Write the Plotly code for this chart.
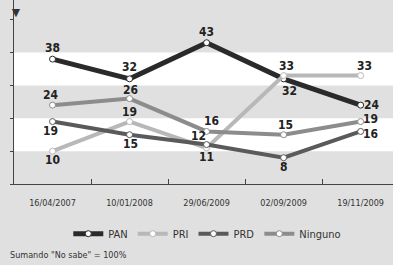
import plotly.graph_objects as go

dates = ["16/04/2007", "10/01/2008", "29/06/2009", "02/09/2009", "19/11/2009"]
pan = [38, 32, 43, 32, 24]
pri = [10, 19, 11, 33, 33]
prd = [19, 15, 12, 8, 16]
ninguno = [24, 26, 16, 15, 19]

# label offsets in pixels (dx right, dy down) relative to each point
series = [
    ("PAN", pan, "#2a2a2a", 5, [(0, -11), (0, -12), (0, -11), (6, 12), (11, 0)]),
    ("PRI", pri, "#b8b8b8", 4, [(0, 9), (0, -10), (0, 9), (3, -10), (4, -10)]),
    ("PRD", prd, "#5a5a5a", 4, [(-2, 9), (1, 9), (-8, -9), (0, 9), (10, 3)]),
    ("Ninguno", ninguno, "#8c8c8c", 4, [(-2, -10), (1, -9), (5, -10), (2, -10), (10, -3)]),
]

NARROW = "Liberation Sans Narrow, DejaVu Sans Condensed, sans-serif"
BOLD = "DejaVu Sans Condensed, sans-serif"

fig = go.Figure()
annotations = []
for name, vals, color, w, offs in series:
    fig.add_trace(go.Scatter(
        x=dates, y=vals, name=name, mode="lines+markers",
        line=dict(color=color, width=w),
        marker=dict(size=6, color="white", line=dict(color=color, width=1)),
        cliponaxis=False, hoverinfo="skip",
    ))
    for d, v, (dx, dy) in zip(dates, vals, offs):
        annotations.append(dict(
            x=d, y=v, xref="x", yref="y", text=str(v), showarrow=False,
            xanchor="center", yanchor="middle", xshift=dx, yshift=-dy,
            font=dict(family=BOLD, size=12, color="#222222", weight="bold"),
        ))

shapes = []
for y0, y1 in [(10, 20), (30, 40)]:
    shapes.append(dict(type="rect", xref="paper", yref="y", x0=0, x1=1, y0=y0, y1=y1,
                       fillcolor="white", line=dict(width=0), layer="below"))

annotations += [
    dict(text="▼", xref="paper", yref="paper", x=0.005, y=1.0, xanchor="center", yanchor="top",
         showarrow=False, font=dict(size=14, color="#333")),
    dict(text='Sumando "No sabe" = 100%', xref="paper", yref="paper", x=-0.016, y=-0.386,
         xanchor="left", yanchor="middle", showarrow=False,
         font=dict(family=NARROW, size=9, color="#333")),
]

fig.update_layout(
    width=393, height=265,
    margin=dict(l=14, r=0, t=0, b=81, autoexpand=False),
    paper_bgcolor="#e0e0e0", plot_bgcolor="#e0e0e0",
    shapes=shapes,
    annotations=annotations,
    showlegend=True,
    legend=dict(orientation="h", x=0.51, xanchor="center", y=-0.27, yanchor="middle",
                font=dict(family=NARROW, size=11, color="#333333"),
                bgcolor="rgba(0,0,0,0)", itemwidth=30, tracegroupgap=0),
    xaxis=dict(type="category", range=[-0.5, 4.42], showgrid=False, tickson="boundaries",
               ticks="inside", ticklen=5, tickcolor="#444", showline=True, linecolor="#444", linewidth=1,
               tickfont=dict(family=NARROW, size=9, color="#333"), zeroline=False,
               automargin=False, ticklabelstandoff=10),
    yaxis=dict(range=[0, 56], showgrid=False, showticklabels=False, ticks="outside", ticklen=3,
               tickcolor="#444", dtick=10, tick0=0, showline=True, linecolor="#444", linewidth=1,
               zeroline=False, automargin=False),
)

fig.write_html("out.html", config={"displayModeBar": False},
               post_script="document.body.style.margin='0';document.body.style.overflow='hidden';")
